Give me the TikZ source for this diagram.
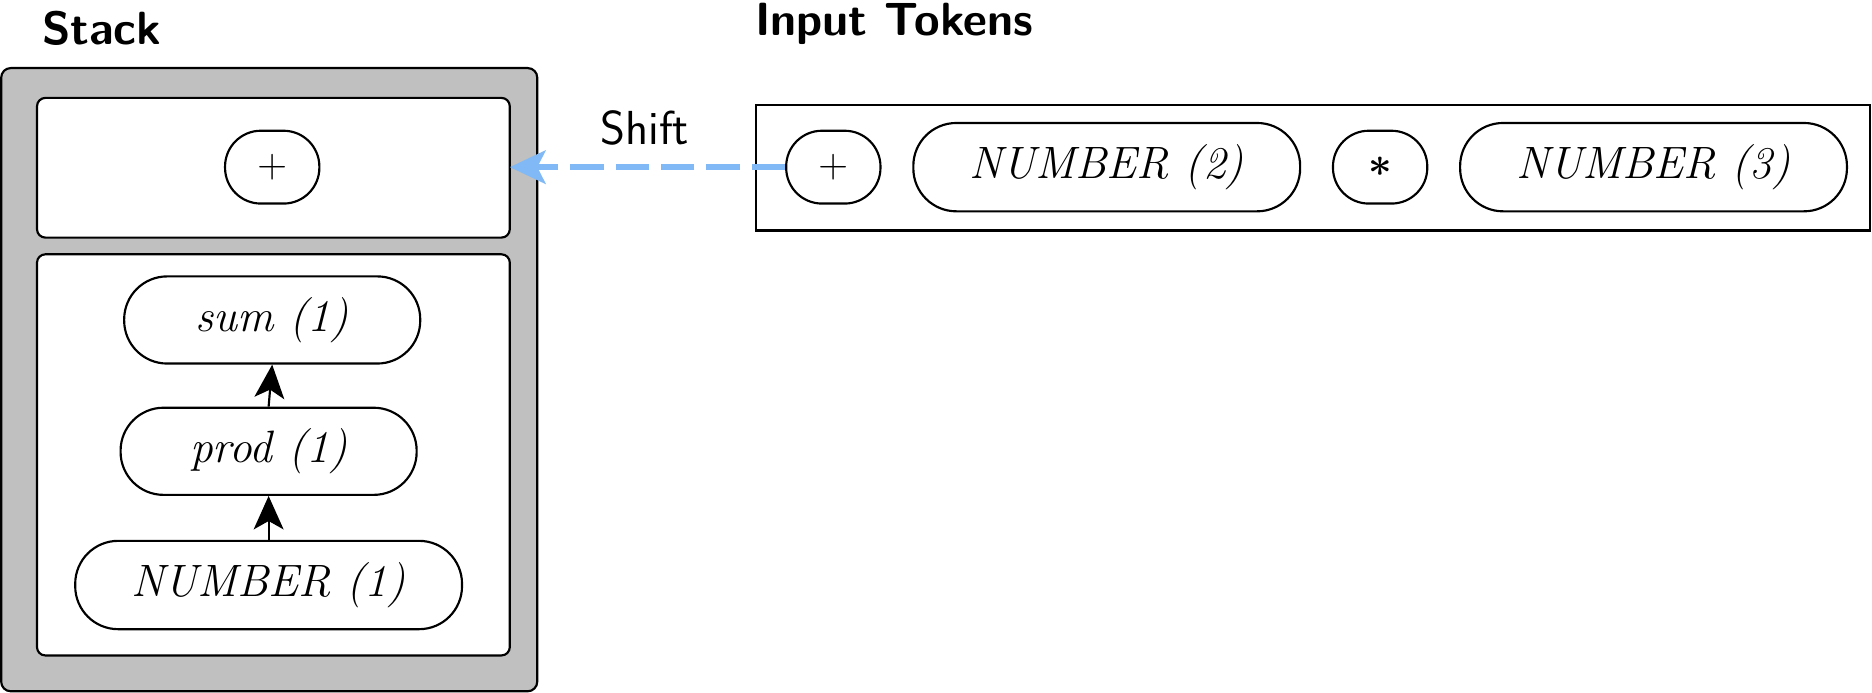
\documentclass[tikz,border=0pt]{standalone}
\usetikzlibrary{arrows.meta}
\definecolor{stackgray}{RGB}{192,192,192}
\definecolor{shiftblue}{RGB}{128,185,245}
\newcommand{\boldast}{\mbox{\boldmath$\ast$}}
\begin{document}
\begin{tikzpicture}[x=0.5pt,y=-0.5pt,
  tok/.style={draw=black,line width=0.9pt,fill=white,inner sep=0pt,
    font=\fontsize{19}{21}\selectfont\itshape},
  bigtok/.style={tok,minimum width=162pt,minimum height=37pt,rounded corners=18pt},
  midtok/.style={tok,minimum width=124pt,minimum height=36.5pt,rounded corners=18pt},
  smalltok/.style={tok,minimum width=39.5pt,minimum height=30.5pt,rounded corners=15pt},
  title/.style={anchor=base west,inner sep=0pt,font=\fontsize{19.5}{21}\selectfont\sffamily\bfseries},
  uparrow/.style={-{Stealth[length=14pt,width=12.5pt,inset=3.5pt]},line width=0.9pt},
  shiftarrow/.style={-{Stealth[length=15pt,width=14pt,inset=3.5pt]},draw=shiftblue,
    line width=2.3pt,dash pattern=on 14pt off 5pt},
  boxline/.style={draw=black,line width=0.9pt}
]
\useasboundingbox (0,0) rectangle (1568,580);
% titles
\node[title] (stacklbl) at (35,37) {Stack};
\node[title] (inputlbl) at (632,30) {Input Tokens};
% stack container
\draw[boxline,fill=stackgray,rounded corners=4pt] (1,57) rectangle (450,579);
\draw[boxline,fill=white,rounded corners=3.5pt] (31,82) rectangle (427,199);
\draw[boxline,fill=white,rounded corners=3.5pt] (31,213) rectangle (427,549);
\coordinate (topbox) at (427,140);
% stack nodes
\node[smalltok] (splus) at (228,140) {$+$};
\node[midtok] (sum) at (228,268) {sum (1)};
\node[midtok] (prod) at (225,378) {prod (1)};
\node[bigtok] (num1) at (225,490) {NUMBER (1)};
\draw[uparrow] (prod.north) -- (sum.south);
\draw[uparrow] (num1.north) -- (prod.south);
% input tokens
\draw[boxline] (633,88) rectangle (1566,193);
\node[smalltok] (iplus) at (698,140) {$+$};
\node[bigtok] (num2) at (927,140) {NUMBER (2)};
\node[smalltok] (star) at (1156,140) {\boldast};
\node[bigtok] (num3) at (1385,140) {NUMBER (3)};
% shift
\draw[shiftarrow] (iplus.west) -- (topbox);
\node[anchor=base,inner sep=0pt,font=\fontsize{20}{22}\selectfont\sffamily] (shiftlbl) at (540,121) {Shift};
\end{tikzpicture}
\end{document}
